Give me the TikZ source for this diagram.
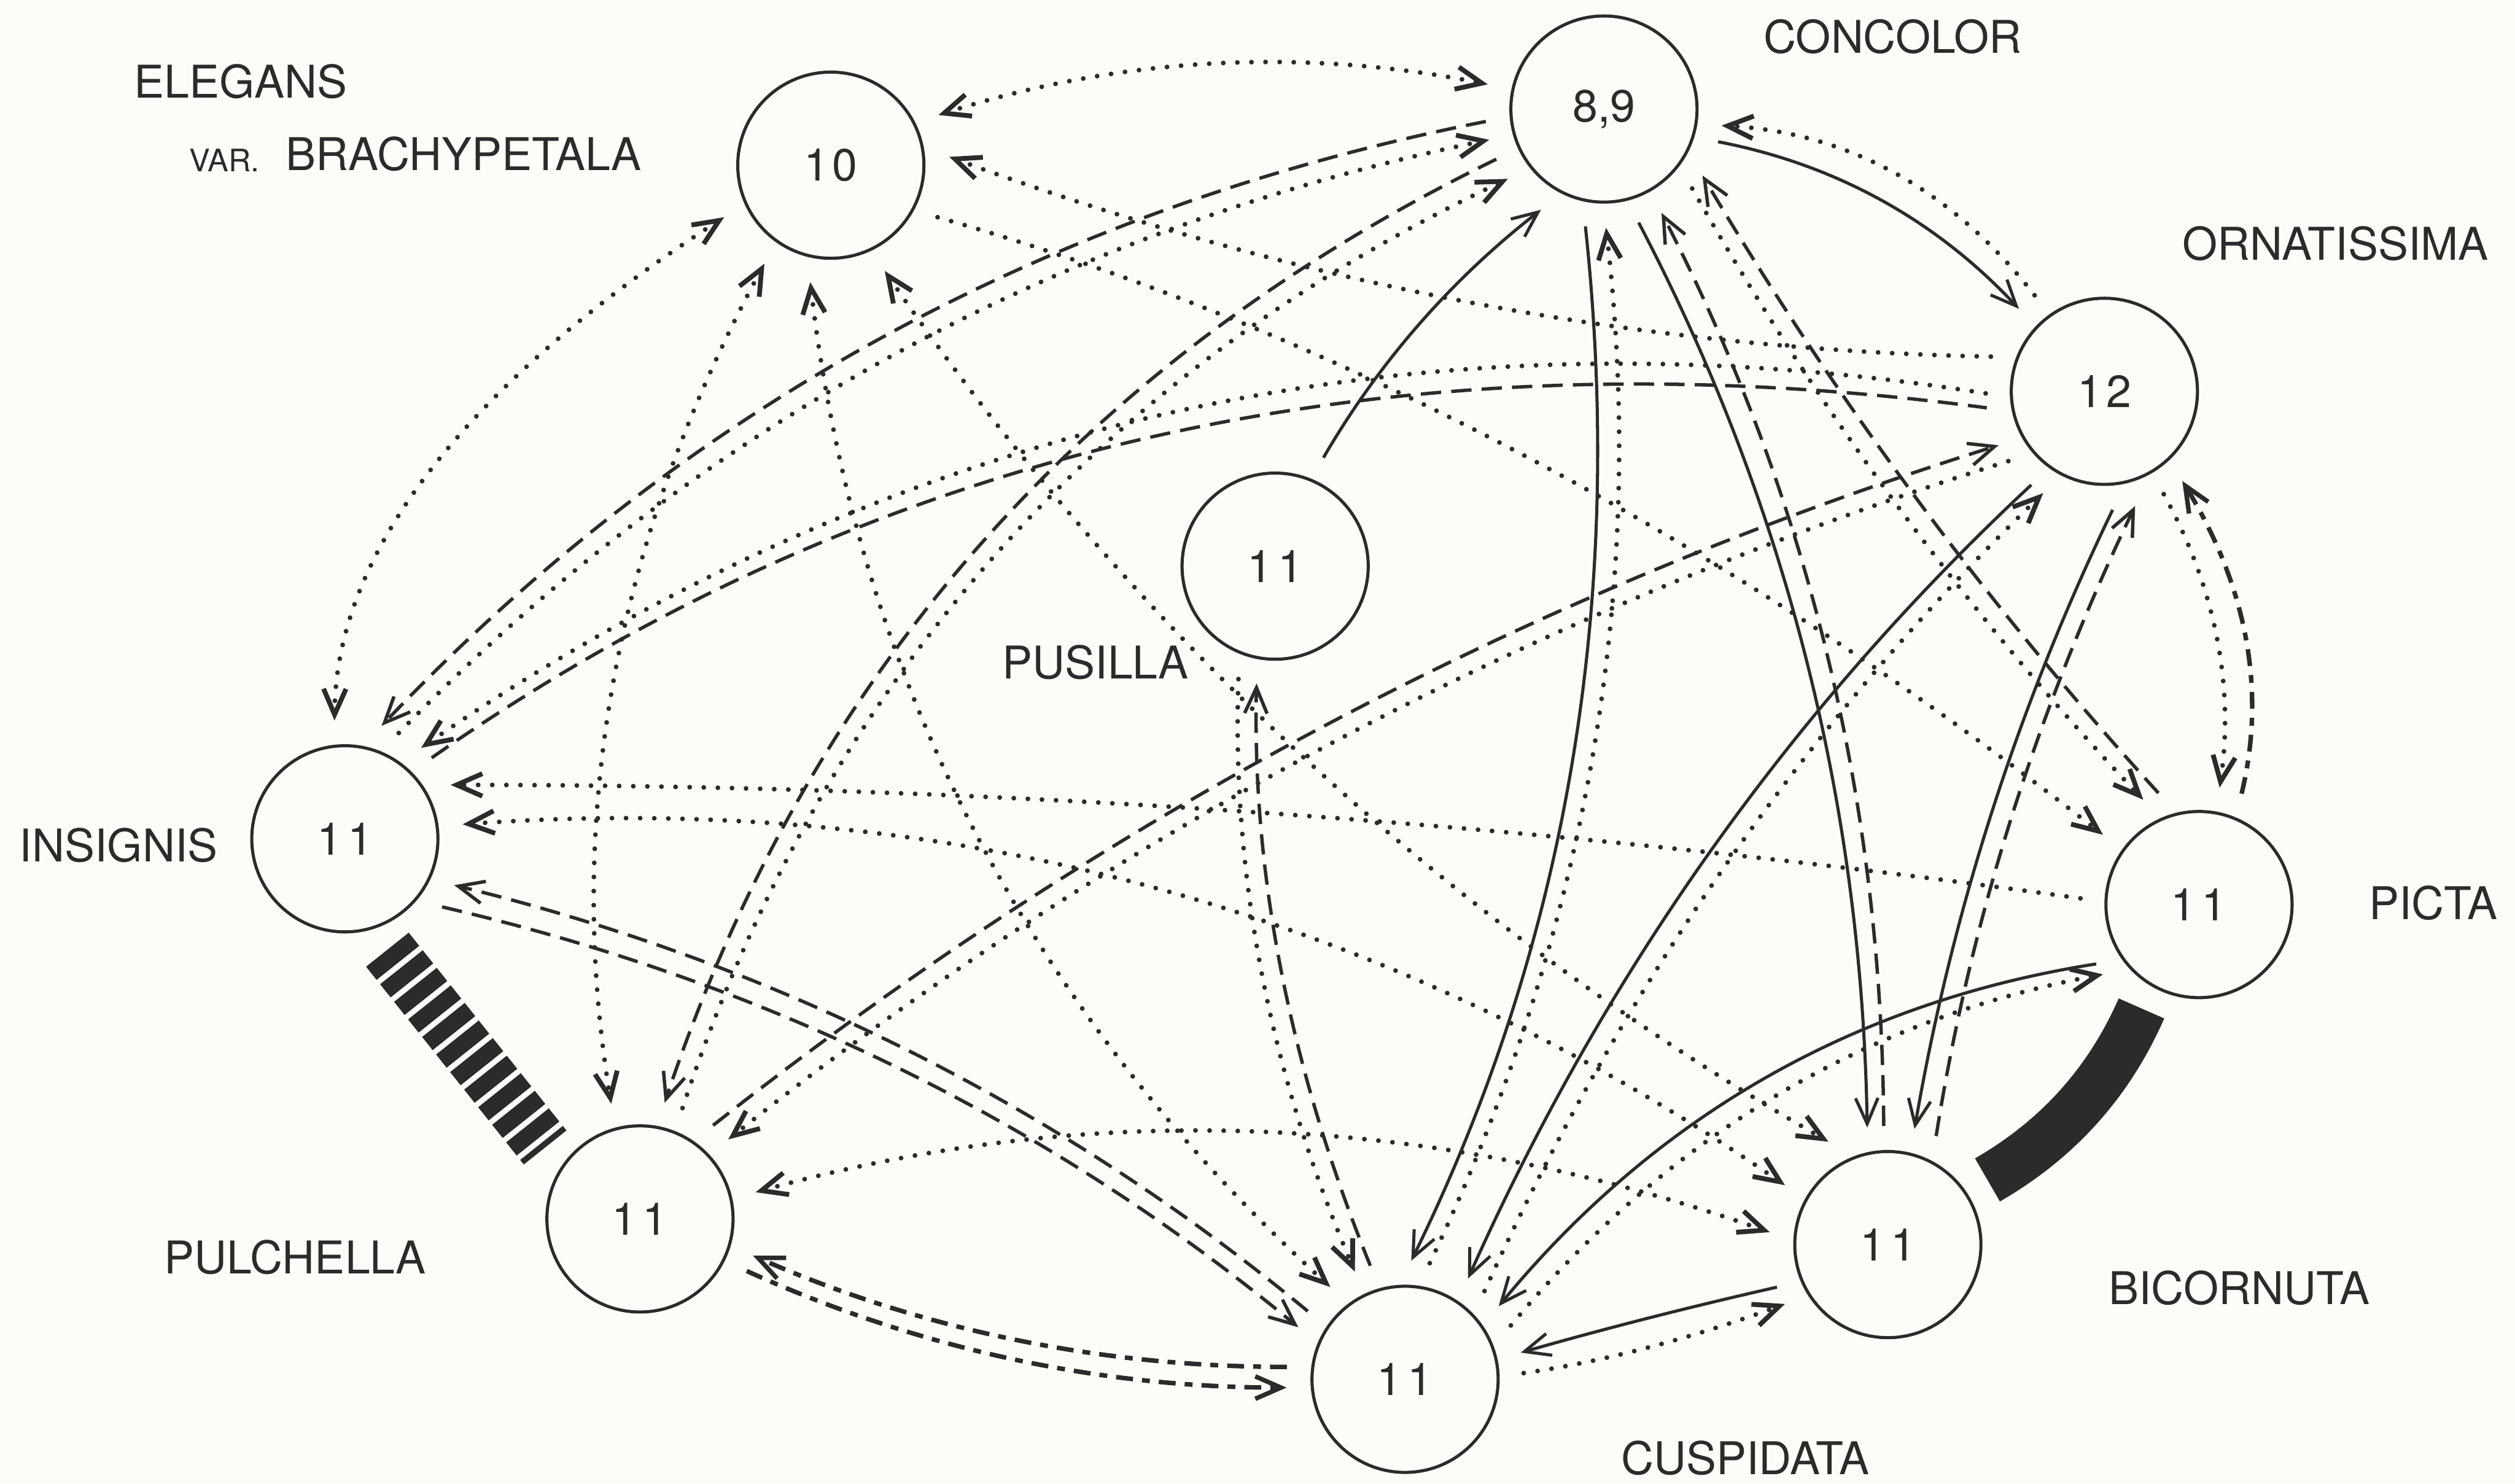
\documentclass[tikz,border=0pt]{standalone}
\usepackage{fontspec}
\newfontfamily\lab{TeX Gyre Heros}
\usetikzlibrary{arrows.meta,calc}
\definecolor{ink}{gray}{0.17}
\definecolor{paper}{RGB}{253,252,248}
% smooth connector: style, start, point near the middle, end
\newcommand{\qc}[4]{%
  \coordinate (qq) at ($2*(#3)-0.5*(#2)-0.5*(#4)$);
  \draw[#1] (#2) .. controls ($(#2)!0.6667!(qq)$) and ($(#4)!0.6667!(qq)$) .. (#4);}
\begin{document}
\begin{tikzpicture}[x=0.01cm,y=-0.01cm,
  >={Straight Barb[length=1.6mm,width=1.4mm]},
  every path/.style={color=ink},
  sp/.style={circle,draw=ink,line width=0.55pt,minimum size=1.16cm,inner sep=0pt,outer sep=0.16cm,text=ink,font=\lab\fontsize{8}{9}\selectfont},
  lbl/.style={inner sep=0pt,text=ink,font=\lab\fontsize{8}{9}\selectfont},
  csol/.style={line width=0.55pt},
  cdot/.style={line width=0.85pt,line cap=round,dash pattern=on 0pt off 2.5pt},
  cdash/.style={line width=0.6pt,dash pattern=on 3.6pt off 1.8pt},
  csdash/.style={line width=0.8pt,dash pattern=on 3pt off 1.6pt on 1.4pt off 1.6pt},
]
\fill[paper] (0,0) rectangle (1568,925);
\useasboundingbox (0,0) rectangle (1568,925);

% species nodes
\node[sp] (E)  at (518,103) {1\kern0.6pt0};
\node[sp] (C)  at (1000,68) {8,9};
\node[sp] (O)  at (1312,244) {1\kern0.6pt2};
\node[sp] (Pu) at (795,353) {1\kern1pt1};
\node[sp] (I)  at (215,523) {1\kern1pt1};
\node[sp] (Pi) at (1371,564) {1\kern1pt1};
\node[sp] (Pl) at (399,760) {1\kern1pt1};
\node[sp] (B)  at (1177,776) {1\kern1pt1};
\node[sp] (Cu) at (876,860) {1\kern1pt1};

% labels
\node[lbl] (lE) at (150,51) {ELEGANS};
\node[lbl,font=\lab\fontsize{5.5}{6}\selectfont] (lV) at (140,100) {VAR.};
\node[lbl] (lBr) at (289,96) {BRACHYPETALA};
\node[lbl] (lC) at (1180,23) {CONCOLOR};
\node[lbl] (lO) at (1456,152) {ORNATISSIMA};
\node[lbl] (lPu) at (683,413) {PUSILLA};
\node[lbl] (lI) at (74,527) {INSIGNIS};
\node[lbl] (lPi) at (1517,563) {PICTA};
\node[lbl] (lPl) at (184,784) {PULCHELLA};
\node[lbl] (lB) at (1396,803) {BICORNUTA};
\node[lbl] (lCu) at (1088,909) {CUSPIDATA};

% bands
\draw[line width=0.34cm,dash pattern=on 1.05mm off 0.35mm] (I.-69) -- (Pl.143);
\qc{line width=0.31cm}{Pi.241}{1296,690}{B.33}

% connectors from Elegans
\qc{cdot,<->}{E.25}{755,40}{C.168}
\qc{cdot,->}{O.163}{914,188}{E.4}
\qc{cdot,->}{E.-26}{950,284}{Pi.144}
\qc{cdot,<->}{E.-154}{270,292}{I.95}
\qc{cdot,<->}{E.-124}{383,424}{Pl.104}
\qc{cdot,<->}{E.-100}{608,518}{Cu.129}
\qc{cdot,<->}{E.-63}{814,473}{B.120}

% Concolor - Insignis / Pulchella
\qc{cdash,->}{C.186}{551,210}{I.72}
\qc{cdot,->}{I.63}{558,221}{C.195}
\qc{cdash,->}{C.205}{611,340}{Pl.78}
\qc{cdot,->}{Pl.69}{620,347}{C.216}

% Ornatissima - Insignis / Pulchella
\qc{cdot,->}{O.181}{728,258}{I.50}
\qc{cdash}{I.43}{720,272}{O.188}
\qc{cdash,->}{Pl.52}{827,452}{O.207}
\qc{cdot,->}{O.216}{833,462}{Pl.42}

% Picta - Insignis, Insignis - Bicornuta, Pulchella - Bicornuta
\qc{cdot,->}{Pi.177}{790,507}{I.27}
\qc{cdot,<->}{I.7}{720,554}{B.150}
\qc{cdot,<->}{Pl.13}{786,706}{B.174}

% Insignis - Cuspidata, Pulchella - Cuspidata
\qc{cdash,->}{I.-35}{560,666}{Cu.154}
\qc{cdash,->}{Cu.145}{566,655}{I.-23}
\qc{csdash,->}{Cu.174}{632,835}{Pl.-18}
\qc{csdash,->}{Pl.-26}{630,847}{Cu.184}

% Pusilla
\qc{csol,->}{Pu.66}{885,202}{C.238}
\qc{cdot,->}{Pu.252}{787,608}{Cu.115}
\qc{cdash,->}{Cu.107}{799,606}{Pu.261}

% Concolor - Cuspidata / Bicornuta / Picta / Ornatissima
\qc{csol,->}{C.261}{980,476}{Cu.87}
\qc{cdot,->}{Cu.78}{993,470}{C.271}
\qc{csol,->}{C.287}{1126,411}{B.100}
\qc{cdash,->}{B.92}{1139,408}{C.299}
\qc{cdot,->}{C.318}{1185,318}{Pi.118}
\qc{cdash,->}{Pi.110}{1195,311}{C.326}
\qc{csol,->}{C.344}{1173,125}{O.136}
\qc{cdot,->}{O.126}{1181,108}{C.352}

% Ornatissima - Cuspidata / Bicornuta / Picta
\qc{csol,->}{O.232}{1067,530}{Cu.58}
\qc{cdot,->}{Cu.48}{1077,538}{O.239}
\qc{csol,->}{O.274}{1242,506}{B.77}
\qc{cdash,->}{B.66}{1254,510}{O.285}
\qc{cdot,->}{O.300}{1382,398}{Pi.80}
\qc{csdash,->}{Pi.69}{1400,398}{O.311}

% Picta - Cuspidata, Bicornuta - Cuspidata
\qc{csol,->}{Pi.210}{1101,672}{Cu.38}
\qc{cdot,->}{Cu.27}{1108,683}{Pi.216}
\qc{csol,->}{B.201}{1027,822}{Cu.13}
\qc{cdot,->}{Cu.3}{1028,840}{B.210}
\end{tikzpicture}
\end{document}
